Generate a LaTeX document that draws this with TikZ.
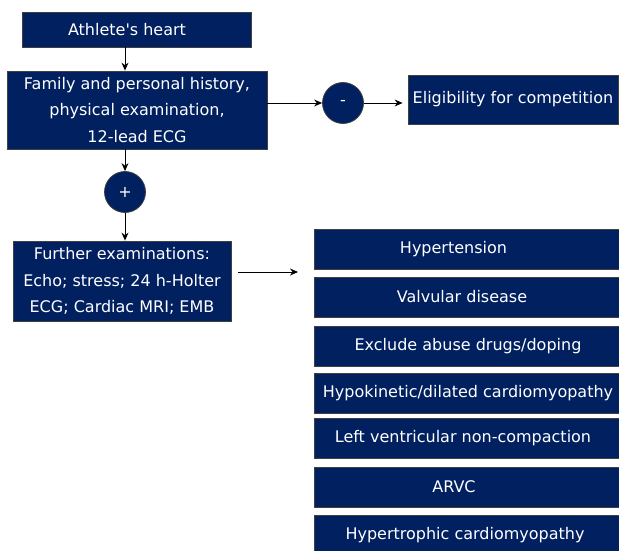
\documentclass[tikz,border=0pt]{standalone}
\usepackage{fontspec}
\setmainfont{DejaVu Sans}[Ligatures=TeXOff]
\usetikzlibrary{arrows.meta,calc}
\definecolor{navy}{RGB}{0,32,96}
\begin{document}
\begin{tikzpicture}[x=1pt,y=1pt,
  box/.style={rectangle,fill=navy,draw=black!75,line width=0.8pt,text=white,
    font=\fontsize{16}{26.5}\selectfont,align=center,inner sep=0pt},
  circ/.style={circle,fill=navy,draw=black!75,line width=0.8pt,text=white,
    minimum size=41pt,inner sep=0pt,font=\fontsize{16}{18}\selectfont},
  arr/.style={line width=0.9pt,-{Stealth[length=8pt,width=7pt]}}]
\useasboundingbox (0,0) rectangle (619,-551);
\node[box,minimum width=229pt,minimum height=35pt] (ah) at (136.5,-29.5) {\hspace*{-19pt}Athlete's heart};
\node[box,minimum width=260pt,minimum height=78pt] (fam) at (137,-110) {Family and personal history,\\physical examination,\\12-lead ECG};
\node[circ] (plus) at (125,-192) {+};
\node[box,minimum width=218pt,minimum height=80pt] (fur) at (122,-281) {Further examinations:\\Echo; stress; 24 h-Holter\\ECG; Cardiac MRI; EMB};
\node[circ] (minus) at (343,-103) {-};
\node[box,minimum width=210pt,minimum height=49pt] (elig) at (513,-99.5) {Eligibility for competition};
\begin{scope}[every node/.style={box,minimum width=308pt,minimum height=40pt}]
\node (r1) at (468,-249.5) {\hspace*{-29pt}Hypertension};
\node (r2) at (468,-297) {\hspace*{-12pt}Valvular disease};
\node (r3) at (468,-346) {Exclude abuse drugs/doping};
\node (r4) at (468,-393) {Hypokinetic/dilated cardiomyopathy};
\node (r5) at (468,-438) {\hspace*{-10pt}Left ventricular non-compaction};
\node (r6) at (468,-487) {\hspace*{-28pt}ARVC};
\node (r7) at (468,-535) {\hspace*{-6pt}Hypertrophic cardiomyopathy};
\end{scope}
\coordinate (fs) at (238,-272);
\coordinate (fe) at (298,-272);
\draw[arr] (ah.south -| plus.center) -- (fam.north -| plus.center);
\draw[arr] (fam.south -| plus.center) -- (plus.north);
\draw[arr] (plus.south) -- (fur.north -| plus.center);
\draw[arr] (fam.east |- minus.center) -- (minus.west);
\draw[arr,shorten >=5pt] (minus.east) -- (elig.west |- minus.center);
\draw[arr] (fs) -- (fe);
\end{tikzpicture}
\end{document}
